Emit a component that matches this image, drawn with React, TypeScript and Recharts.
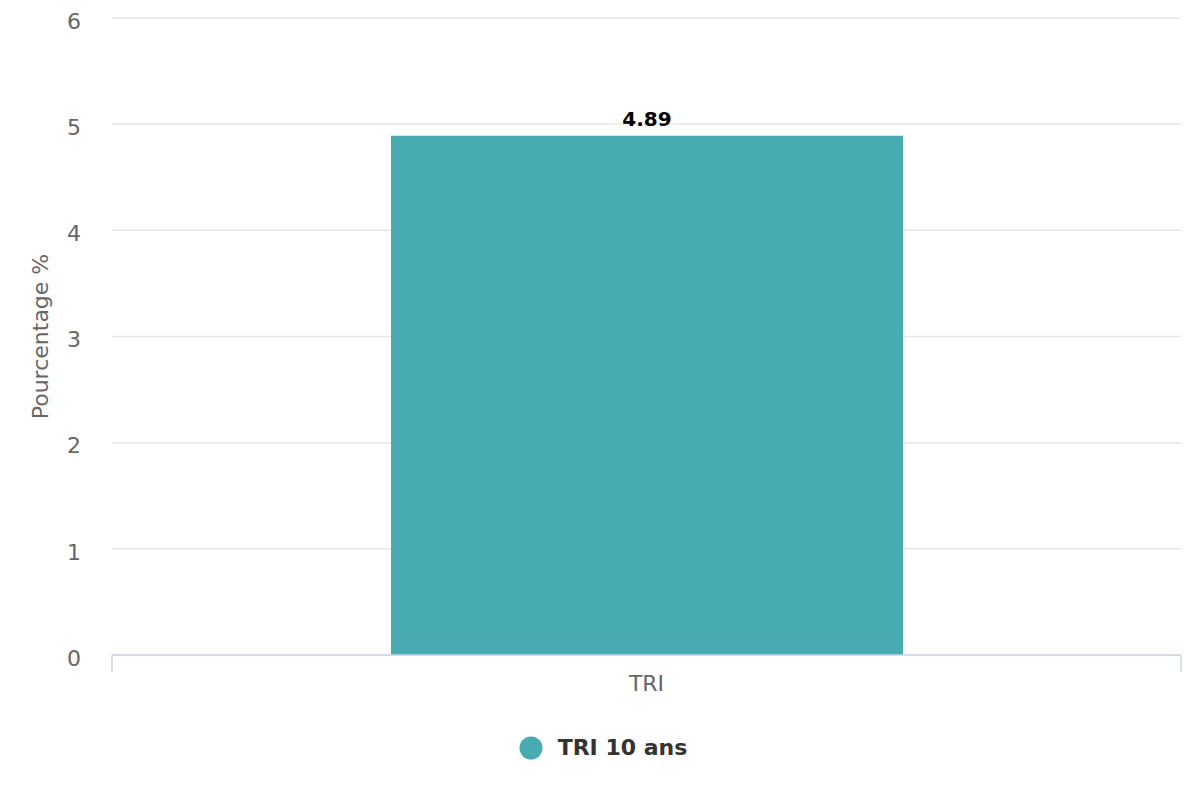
import React from 'react';
import { BarChart, Bar, XAxis, YAxis, CartesianGrid, LabelList, Legend, Label } from 'recharts';

const categories = ['TRI'];
const seriesValues = [4.89];
const yTicks = [0, 1, 2, 3, 4, 5, 6];
const seriesName = 'TRI 10 ans';
const yTitle = 'Pourcentage %';

const data = categories.map((c, i) => ({ category: c, value: seriesValues[i] }));

const FONT = '"DejaVu Sans", Verdana, sans-serif';
const BAR_COLOR = '#47abb1';

const XTick = (props: any) => {
  const { x, y, payload } = props;
  const half = payload && typeof payload.offset === 'number' && payload.offset > 0 ? payload.offset : (1200 - 112 - 19) / 2 / categories.length;
  return (
    <g>
      <line x1={x - half} x2={x - half} y1={y} y2={y + 17} stroke="#ccd6eb" strokeWidth={1.5} />
      <line x1={x + half} x2={x + half} y1={y} y2={y + 17} stroke="#ccd6eb" strokeWidth={1.5} />
      <text x={x} y={y + 36} textAnchor="middle" fill="#666666" fontSize={22} fontFamily={FONT}>
        {payload.value}
      </text>
    </g>
  );
};

const LegendContent = () => (
  <div style={{ display: 'flex', justifyContent: 'center', alignItems: 'center', width: 1200, paddingLeft: 6, boxSizing: 'border-box' }}>
    <svg width={24} height={24} style={{ marginRight: 15 }}>
      <circle cx={12} cy={12} r={11.5} fill={BAR_COLOR} />
    </svg>
    <span style={{ fontFamily: FONT, fontWeight: 'bold', fontSize: 22, color: '#333333' }}>{seriesName}</span>
  </div>
);

export default function App() {
  return (
    <div style={{ position: 'absolute', left: 0, top: 0, width: 1200, height: 800, background: '#fff' }}>
      <BarChart width={1200} height={800} data={data} margin={{ top: 18, right: 19, left: 0, bottom: 105 }}>
        <CartesianGrid vertical={false} stroke="#e6e6e6" strokeWidth={1.5} />
        <YAxis
          type="number"
          domain={[0, 6]}
          ticks={yTicks}
          width={112}
          axisLine={false}
          tickLine={false}
          tickMargin={25}
          tick={{ fill: '#666666', fontSize: 22, fontFamily: FONT, dy: 3 }}
          interval={0}
        >
          <Label
            content={(p: any) => {
              const vb = p.viewBox || { x: 0, y: 18, width: 112, height: 637 };
              const cx = vb.x + 40;
              const cy = vb.y + vb.height / 2;
              return (
                <text
                  x={cx}
                  y={cy}
                  transform={`rotate(-90 ${cx} ${cy})`}
                  textAnchor="middle"
                  dominantBaseline="central"
                  fill="#666666"
                  fontSize={22}
                  fontFamily={FONT}
                >
                  {yTitle}
                </text>
              );
            }}
          />
        </YAxis>
        <XAxis
          dataKey="category"
          height={40}
          axisLine={{ stroke: '#ccd6eb', strokeWidth: 1.5 }}
          tickLine={false}
          tickSize={0}
          tickMargin={0}
          tick={<XTick />}
          interval={0}
        />
        <Legend
          layout="horizontal"
          verticalAlign="middle"
          align="center"
          wrapperStyle={{ top: 735, left: 0, width: 1200 }}
          content={<LegendContent />}
        />
        <Bar dataKey="value" name={seriesName} fill={BAR_COLOR} barSize={512} isAnimationActive={false}>
          <LabelList
            dataKey="value"
            position="top"
            offset={10}
            fill="#000000"
            fontSize={20}
            fontWeight="bold"
            fontFamily={FONT}
          />
        </Bar>
      </BarChart>
    </div>
  );
}
